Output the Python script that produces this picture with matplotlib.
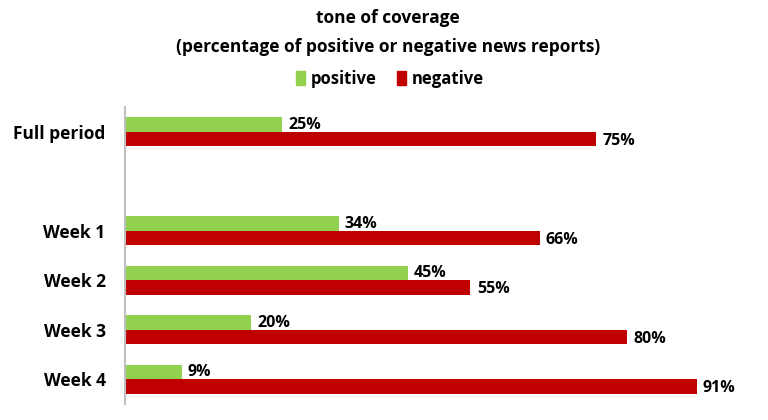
import numpy as np
import matplotlib.pyplot as plt
from matplotlib.patches import Patch

categories = ["Full period", "", "Week 1", "Week 2", "Week 3", "Week 4"]
positive = [25, None, 34, 45, 20, 9]
negative = [75, None, 66, 55, 80, 91]

green = "#92D050"
red = "#C00000"
plt.rcParams['font.family'] = ['Open Sans', 'DejaVu Sans']

fig = plt.figure(figsize=(7.68, 4.2), dpi=100)
ax = fig.add_axes([0.1628, 0.038, 0.8177, 0.707])

y = np.arange(len(categories))
h = 0.29
for i, (p, n) in enumerate(zip(positive, negative)):
    if p is None:
        continue
    ax.barh(i - h / 2, p, height=h, color=green, edgecolor='none')
    ax.barh(i + h / 2, n, height=h, color=red, edgecolor='none')
    ax.text(p + 1.0, i - h / 2, f"{p}%", va='center', ha='left',
            fontsize=11.5, fontweight='bold')
    ax.text(n + 1.0, i + h / 2 + 0.04, f"{n}%", va='center', ha='left',
            fontsize=11.5, fontweight='bold')

ax.set_xlim(0, 100)
ax.set_ylim(len(categories) - 0.5, -0.5)
ax.set_yticks(y)
ax.set_yticklabels(categories, fontsize=12.5, fontweight='bold')
ax.tick_params(axis='y', length=0, pad=14)
ax.set_xticks([])
for s in ['top', 'right', 'bottom']:
    ax.spines[s].set_visible(False)
ax.spines['left'].set_color('#BFBFBF')
ax.spines['left'].set_linewidth(1.5)

fig.text(0.505, 0.958, "tone of coverage", ha='center', va='center',
         fontsize=12.5, fontweight='bold')
fig.text(0.505, 0.888, "(percentage of positive or negative news reports)",
         ha='center', va='center', fontsize=12.5, fontweight='bold')

handles = [Patch(color=green, label='positive'), Patch(color=red, label='negative')]
fig.legend(handles=handles, loc='center', bbox_to_anchor=(0.508, 0.813), ncol=2,
           frameon=False, prop={'weight': 'bold', 'size': 12},
           handlelength=0.55, handleheight=0.9, handletextpad=0.35, columnspacing=1.2)

fig.savefig("out.png", dpi=100)
